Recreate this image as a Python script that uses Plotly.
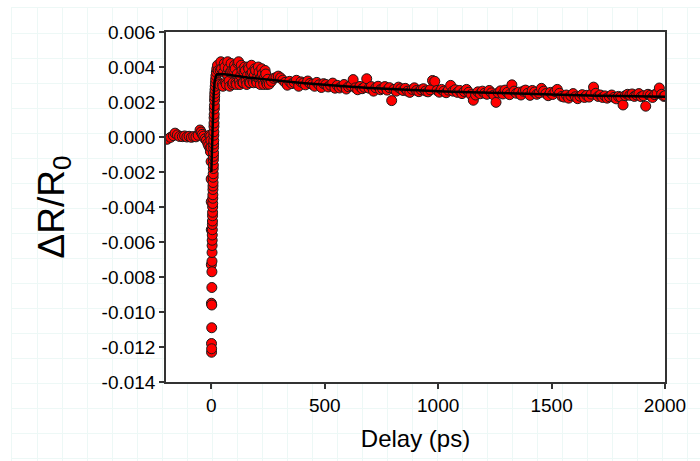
import plotly.graph_objects as go

# ---- measured transient reflectivity ----
# pre-zero baseline
t_pre = [-195, -180, -168, -160, -150, -140, -128, -118, -108, -98, -88, -78, -68, -58,
         -50, -45, -40, -34, -28, -22, -16, -12, -8, -6, -4, -3, -2]
r_pre = [-0.00013, -0.00002, 0.00008, 0.00022, 0.00012, 0.00003, 0.00002, 0.00006, 0.00000,
         0.00004, -0.00002, 0.00003, 0.00001, 0.00010, 0.00040, 0.00028, 0.00015, 0.00005,
         -0.00010, -0.00020, -0.00036, -0.00050, 0.00010, -0.00065, -0.00084, 0.00005, -0.00020]

# sub-ps spike and recovery
t_spike = [-1.6, -1.2, -0.9, -0.6, -0.3, 0.0, 0.3, 0.6, 0.9, 1.2, 1.5, 1.8, 2.1, 2.4, 2.7,
           3.0, 3.3, 3.6, 3.9, 4.2, 4.5, 4.8, 5.1, 5.4, 5.7, 6.0, 6.3, 6.6, 6.9, 7.2, 7.5,
           7.8, 8.1, 8.4, 8.7, 9.0, 9.3, 9.6, 9.9, 10.2, 10.5, 10.8, 11.1, 11.4, 11.7, 12.0,
           12.5, 13.0, 13.5, 14.0, 14.5, 15.0, 16.0, 17.0, 18.0, 19.0, 20.0, 22.0, 24.0]
r_spike = [-0.0006, -0.0014, -0.0024, -0.0037, -0.0053, -0.0073, -0.0095, -0.0118, -0.0123,
           -0.0121, -0.0109, -0.0096, -0.0086, -0.0077, -0.0071, -0.0066, -0.0062, -0.0059,
           -0.0056, -0.0053, -0.0050, -0.0048, -0.0045, -0.0043, -0.0040, -0.0038, -0.0035,
           -0.0033, -0.0030, -0.0028, -0.0026, -0.0023, -0.0021, -0.0018, -0.0016, -0.0013,
           -0.0011, -0.0009, -0.0006, -0.0004, -0.0002, 0.0001, 0.0003, 0.0006, 0.0008,
           0.0011, 0.0013, 0.0016, 0.0018, 0.0021, 0.0023, 0.0025, 0.0027, 0.0029, 0.0031,
           0.0033, 0.0035, 0.0037, 0.0039]

# coherent oscillation window
t_osc = [27, 30, 33, 36, 39, 42, 45, 48, 51, 54, 57, 60, 63, 66, 69, 72, 75, 78, 81, 84,
         87, 90, 93, 96, 99, 102, 105, 108, 111, 114, 117, 120, 123, 126, 129, 132, 135,
         138, 141, 144, 147, 150, 153, 156, 159, 162, 165, 168, 171, 174, 177, 180, 183,
         186, 189, 192, 195, 198, 201, 204, 207, 210, 213, 216, 219, 222, 225, 228, 231,
         234, 237, 240, 243, 246, 249]
r_osc = [0.0041, 0.0038, 0.0031, 0.0030, 0.0038, 0.0043, 0.0039, 0.0030, 0.0029, 0.0037,
         0.0042, 0.0040, 0.0031, 0.0030, 0.0036, 0.0043, 0.0039, 0.0032, 0.0029, 0.0037,
         0.0042, 0.0038, 0.0030, 0.0031, 0.0038, 0.0041, 0.0039, 0.0031, 0.0030, 0.0036,
         0.0042, 0.0043, 0.0032, 0.0030, 0.0035, 0.0041, 0.0038, 0.0031, 0.0031, 0.0037,
         0.0040, 0.0038, 0.0032, 0.0030, 0.0035, 0.0040, 0.0039, 0.0031, 0.0031, 0.0036,
         0.0041, 0.0037, 0.0032, 0.0031, 0.0035, 0.0039, 0.0038, 0.0032, 0.0031, 0.0034,
         0.0040, 0.0037, 0.0033, 0.0030, 0.0034, 0.0039, 0.0036, 0.0032, 0.0030, 0.0034,
         0.0038, 0.0036, 0.0031, 0.0030, 0.0033]

# slow decay
t_tail = [255, 265, 275, 285, 295, 305, 315, 325, 335, 345,
          355, 365, 375, 385, 395, 405, 415, 425, 435, 445,
          455, 465, 475, 485, 495, 505, 515, 525, 535, 545,
          555, 565, 575, 585, 595, 605, 615, 625, 635, 645,
          655, 665, 675, 685, 695, 705, 715, 725, 735, 745,
          755, 765, 775, 785, 795, 805, 815, 825, 835, 845,
          855, 865, 875, 885, 895, 905, 915, 925, 935, 945,
          955, 965, 975, 985, 995, 1005, 1015, 1025, 1035, 1045,
          1055, 1065, 1075, 1085, 1095, 1105, 1115, 1125, 1135, 1145,
          1155, 1165, 1175, 1185, 1195, 1205, 1215, 1225, 1235, 1245,
          1255, 1265, 1275, 1285, 1295, 1305, 1315, 1325, 1335, 1345,
          1355, 1365, 1375, 1385, 1395, 1405, 1415, 1425, 1435, 1445,
          1455, 1465, 1475, 1485, 1495, 1505, 1515, 1525, 1535, 1545,
          1555, 1565, 1575, 1585, 1595, 1605, 1615, 1625, 1635, 1645,
          1655, 1665, 1675, 1685, 1695, 1705, 1715, 1725, 1735, 1745,
          1755, 1765, 1775, 1785, 1795, 1805, 1815, 1825, 1835, 1845,
          1855, 1865, 1875, 1885, 1895, 1905, 1915, 1925, 1935, 1945,
          1955, 1965, 1975, 1985, 1995, 2000]
r_tail = [0.00302, 0.00318, 0.00335, 0.00340, 0.00348, 0.00338, 0.00325, 0.00312, 0.00296, 0.00318,
          0.00305, 0.00312, 0.00324, 0.00290, 0.00315, 0.00308, 0.00298, 0.00320, 0.00306, 0.00300,
          0.00290, 0.00312, 0.00298, 0.00283, 0.00305, 0.00300, 0.00286, 0.00296, 0.00308, 0.00279,
          0.00295, 0.00280, 0.00289, 0.00300, 0.00274, 0.00287, 0.00293, 0.00328, 0.00281, 0.00270,
          0.00289, 0.00276, 0.00284, 0.00333, 0.00279, 0.00288, 0.00262, 0.00281, 0.00290, 0.00270,
          0.00276, 0.00288, 0.00268, 0.00282, 0.00208, 0.00272, 0.00262, 0.00285, 0.00276, 0.00266,
          0.00278, 0.00262, 0.00255, 0.00272, 0.00281, 0.00266, 0.00259, 0.00270, 0.00276, 0.00263,
          0.00258, 0.00270, 0.00323, 0.00318, 0.00266, 0.00256, 0.00272, 0.00262, 0.00253, 0.00268,
          0.00295, 0.00262, 0.00270, 0.00255, 0.00266, 0.00248, 0.00260, 0.00272, 0.00256, 0.00242,
          0.00210, 0.00240, 0.00258, 0.00247, 0.00262, 0.00250, 0.00244, 0.00266, 0.00252, 0.00240,
          0.00198, 0.00252, 0.00264, 0.00246, 0.00268, 0.00255, 0.00242, 0.00298, 0.00262, 0.00250,
          0.00256, 0.00240, 0.00262, 0.00268, 0.00250, 0.00238, 0.00266, 0.00257, 0.00244, 0.00252,
          0.00278, 0.00262, 0.00248, 0.00236, 0.00255, 0.00243, 0.00260, 0.00272, 0.00250, 0.00232,
          0.00228, 0.00240, 0.00222, 0.00236, 0.00248, 0.00230, 0.00219, 0.00233, 0.00242, 0.00226,
          0.00238, 0.00228, 0.00245, 0.00285, 0.00250, 0.00232, 0.00240, 0.00226, 0.00235, 0.00222,
          0.00230, 0.00240, 0.00226, 0.00218, 0.00232, 0.00228, 0.00183, 0.00236, 0.00244, 0.00238,
          0.00246, 0.00232, 0.00240, 0.00248, 0.00230, 0.00236, 0.00176, 0.00244, 0.00238, 0.00226,
          0.00242, 0.00250, 0.00280, 0.00244, 0.00232, 0.00236]

# ---- fitted model curve (from time zero) ----
t_fit = [0, 3, 6, 10, 14, 20, 27, 40, 60, 80, 100, 130, 160, 200, 250, 300, 400, 500,
         600, 700, 800, 900, 1000, 1100, 1200, 1300, 1400, 1500, 1600, 1700, 1800, 1900, 2000]
r_fit = [-0.0020, -0.0005, 0.0010, 0.0024, 0.0031, 0.0035, 0.0036, 0.0036, 0.00358,
         0.00354, 0.00350, 0.00345, 0.00340, 0.00335, 0.00330, 0.00322, 0.00308, 0.00297,
         0.00288, 0.00280, 0.00273, 0.00267, 0.00262, 0.00257, 0.00253, 0.00250, 0.00247,
         0.00242, 0.00239, 0.00236, 0.00234, 0.00232, 0.00230]

# ---- axis ticks ----
x_ticks = [0, 500, 1000, 1500, 2000]
x_ticktext = ["0", "500", "1000", "1500", "2000"]
y_ticks = [-0.014, -0.012, -0.010, -0.008, -0.006, -0.004, -0.002, 0.000, 0.002, 0.004, 0.006]
y_ticktext = ["-0.014", "-0.012", "-0.010", "-0.008", "-0.006", "-0.004", "-0.002",
              "0.000", "0.002", "0.004", "0.006"]

W, H = 700, 461
FONT = "Liberation Sans, Arial, sans-serif"
AXIS = "#333333"
SHEET = "#edf8f6"

t_all = t_pre + t_spike + t_osc + t_tail
r_all = r_pre + r_spike + r_osc + r_tail

fig = go.Figure()

# faint graph-paper sheet behind the figure (x/y axes)
fig.add_trace(go.Scatter(x=[], y=[], xaxis="x", yaxis="y", showlegend=False,
                         hoverinfo="skip"))

fig.add_trace(go.Scatter(
    x=t_all, y=r_all, mode="markers", xaxis="x2", yaxis="y2", showlegend=False,
    marker=dict(size=10, color="#ff0000", line=dict(color="#1a1a1a", width=1)),
))
fig.add_trace(go.Scatter(
    x=t_fit, y=r_fit, mode="lines", xaxis="x2", yaxis="y2", showlegend=False,
    line=dict(color="#000000", width=2.5),
))

left, right, top, bottom = 166, 665, 32, 382

fig.update_layout(
    width=W, height=H, autosize=False,
    margin=dict(l=0, r=0, t=0, b=0, pad=0),
    paper_bgcolor="white", plot_bgcolor="white",
    font=dict(family=FONT, color="black"),
    xaxis=dict(domain=[12 / W, 1], range=[12, W], side="top", tick0=12, dtick=25,
               showgrid=True, gridcolor=SHEET, gridwidth=1, showline=True,
               linecolor=SHEET, linewidth=1, showticklabels=False, ticks="",
               zeroline=False, fixedrange=True, automargin=False),
    yaxis=dict(domain=[0, 1 - 8 / H], range=[H, 8], tick0=8, dtick=25,
               showgrid=True, gridcolor=SHEET, gridwidth=1, showline=True,
               linecolor=SHEET, linewidth=1, showticklabels=False, ticks="",
               zeroline=False, fixedrange=True, automargin=False),
    xaxis2=dict(
        domain=[left / W, right / W], anchor="y2", range=[-200, 2000],
        tickmode="array", tickvals=x_ticks, ticktext=x_ticktext,
        ticks="outside", ticklen=5, tickwidth=1.5, tickcolor=AXIS,
        showline=True, linecolor=AXIS, linewidth=1.5, mirror=True,
        showgrid=False, zeroline=False, automargin=False,
        tickfont=dict(size=19, family=FONT, color="black"),
        title=dict(text="Delay (ps)", font=dict(size=24, family=FONT, color="black"),
                   standoff=16),
    ),
    yaxis2=dict(
        domain=[1 - bottom / H, 1 - top / H], anchor="x2", range=[-0.014, 0.006],
        tickmode="array", tickvals=y_ticks, ticktext=y_ticktext,
        ticks="outside", ticklen=5, tickwidth=1.5, tickcolor=AXIS,
        showline=True, linecolor=AXIS, linewidth=1.5, mirror=True,
        showgrid=False, zeroline=False, automargin=False,
        tickfont=dict(size=19, family=FONT, color="black"),
        title=dict(text="ΔR/R<sub>0</sub>", font=dict(size=37, family=FONT, color="black"),
                   standoff=26),
    ),
    shapes=[dict(type="rect", xref="x2 domain", yref="y2 domain", x0=0, x1=1, y0=0, y1=1,
                 fillcolor="white", line=dict(width=0), layer="below")],
)

fig.write_html("out.html")
